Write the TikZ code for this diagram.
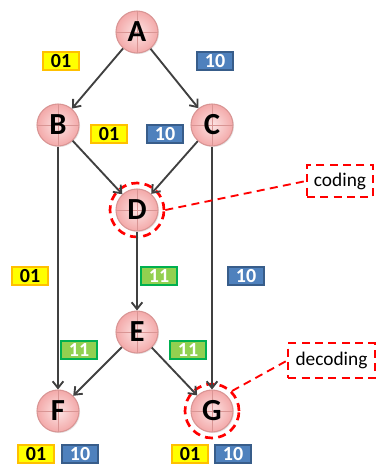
\documentclass[tikz,border=0pt]{standalone}
\usepackage{fontspec}
\setmainfont{Carlito}
\usetikzlibrary{arrows.meta,shadows}
\definecolor{nodeedge}{HTML}{D99594}
\definecolor{nodein}{HTML}{FCE4E4}
\definecolor{nodeout}{HTML}{F3A9A9}
\definecolor{ylwfill}{HTML}{FFFF00}
\definecolor{ylwedge}{HTML}{FFC000}
\definecolor{bluefill}{HTML}{4F81BD}
\definecolor{blueedge}{HTML}{385D8A}
\definecolor{grnfill}{HTML}{92D050}
\definecolor{grnedge}{HTML}{00B050}
\definecolor{edgegray}{HTML}{404040}
\definecolor{callred}{HTML}{FF0000}
\begin{document}
\begin{tikzpicture}[x=0.75pt,y=-0.75pt,
  vtx/.style={circle, draw=nodeedge, line width=0.8pt, inner color=nodein, outer color=nodeout,
    minimum size=31.5pt, inner sep=0pt, font=\fontsize{23}{23}\selectfont\bfseries,
    drop shadow={opacity=0.2, shadow xshift=0.8pt, shadow yshift=-0.8pt},
    path picture={\draw[nodeedge, line width=0.5pt]
      (path picture bounding box.north) -- (path picture bounding box.south)
      (path picture bounding box.west) -- (path picture bounding box.east);}},
  lbl/.style={rectangle, line width=1.5pt, minimum width=27.5pt, minimum height=13.5pt,
    inner sep=0pt, font=\fontsize{15}{15}\selectfont\bfseries},
  ylw/.style={lbl, draw=ylwedge, fill=ylwfill, text=black},
  blu/.style={lbl, draw=blueedge, fill=bluefill, text=white},
  grn/.style={lbl, draw=grnedge, fill=grnfill, text=white},
  arr/.style={draw=edgegray, line width=1.4pt, -{Straight Barb[length=5pt,width=8pt]}},
  ring/.style={circle, draw=callred, line width=2pt, dash pattern=on 6pt off 4pt, minimum size=40.5pt, inner sep=0pt},
  callout/.style={draw=callred, line width=1.4pt, dash pattern=on 6pt off 4pt},
  calltext/.style={callout, font=\fontsize{14.5}{15}\selectfont, inner sep=0pt}
]
\useasboundingbox (0,0) rectangle (376,465);

% vertices
\node[vtx] (A) at (137,32) {A};
\node[vtx] (B) at (58,125) {B};
\node[vtx] (C) at (212,125) {C};
\node[vtx] (D) at (137,210) {D};
\node[vtx] (E) at (137,332) {E};
\node[vtx] (F) at (58,411) {F};
\node[vtx] (G) at (212,411) {G};

% dashed rings
\node[ring] (Dr) at (137,210) {};
\node[ring] (Gr) at (212,411) {};

% edges
\draw[arr] (A) -- (B);
\draw[arr] (A) -- (C);
\draw[arr] (B) -- (D);
\draw[arr] (C) -- (D);
\draw[arr] (B) -- (F);
\draw[arr] (C) -- (G);
\draw[arr] (D) -- (E);
\draw[arr] (E) -- (F);
\draw[arr] (E) -- (G);

% callouts
\node[calltext, minimum width=49.5pt, minimum height=24pt] (cod) at (340,181) {coding};
\node[calltext, minimum width=65pt, minimum height=26pt] (dec) at (331.5,360.5) {decoding};
\draw[callout] (Dr.east) -- (cod.west);
\draw[callout] (Gr.north east) -- (dec.west);

% labels
\node[ylw] (l1) at (61,61) {01};
\node[blu] (l2) at (215,61) {10};
\node[ylw] (l3) at (109,134) {01};
\node[blu] (l4) at (165,134) {10};
\node[ylw] (l5) at (30,276) {01};
\node[grn] (l6) at (159,276) {11};
\node[blu] (l7) at (246,276) {10};
\node[grn] (l8) at (79,350) {11};
\node[grn] (l9) at (188,350) {11};
\node[ylw] (l10) at (36,454) {01};
\node[blu] (l11) at (80,454) {10};
\node[ylw] (l12) at (190,454) {01};
\node[blu] (l13) at (233,454) {10};
\end{tikzpicture}
\end{document}
